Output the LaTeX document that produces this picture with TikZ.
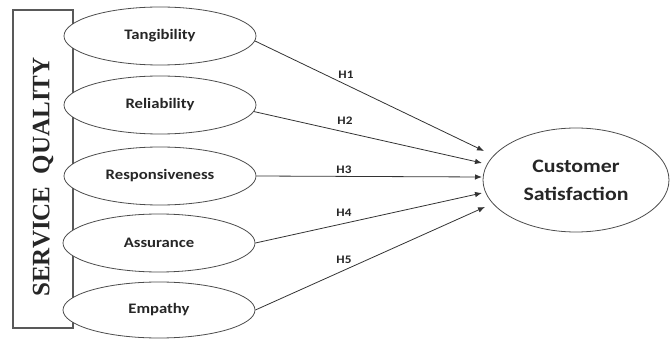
\documentclass[tikz,border=0pt]{standalone}
\usepackage{fontspec}
\setmainfont{Liberation Serif}
\newfontfamily\carl{Carlito}
\usetikzlibrary{shapes.geometric,arrows.meta}
\newcommand{\wideT}[1]{\scalebox{1.15}[1]{#1}}
\tikzset{
  dim/.style={ellipse, draw=black!70, line width=0.8pt, minimum width=192pt, minimum height=58pt, inner sep=0pt,
              font=\carl\bfseries\fontsize{14.5}{16}\selectfont, text=black!85},
  path/.style={draw=black!80, line width=0.8pt, -{Latex[length=7pt,width=5.5pt]}},
  hyp/.style={font=\carl\bfseries\fontsize{11.5}{13}\selectfont, text=black!85, inner sep=0pt}
}
\begin{document}
\begin{tikzpicture}[x=1pt,y=-1pt]
\useasboundingbox (0,0) rectangle (670,339);
% left box
\node[draw=black!65, line width=1.1pt, minimum width=60pt, minimum height=318pt, inner sep=0pt] (sq) at (43,169) {};
\node[rotate=90, font=\bfseries\fontsize{25}{28}\selectfont, text=black!85] (sqt) at (43,177) {SERVICE\ \ QUALITY};
% dimension ellipses
\node[dim, fill=white] (tan) at (160,36) {\wideT{Tangibility}};
\node[dim, fill=white] (rel) at (160,105) {\wideT{Reliability}};
\node[dim, fill=white] (res) at (160,176) {\wideT{Responsiveness}};
\node[dim, fill=white] (ass) at (159,243) {\wideT{Assurance}};
\node[dim, fill=white, minimum height=56pt] (emp) at (159,310) {\wideT{Empathy}};
% outcome
\node[ellipse, draw=black!70, line width=0.8pt, minimum width=186pt, minimum height=104pt, inner sep=0pt,
      font=\carl\bfseries\fontsize{19}{28}\selectfont, text=black!85, align=center] (cs) at (576,180)
      {\wideT{Customer}\\\wideT{Satisfaction}};
% arrow targets
\coordinate (t1) at (484,151);
\coordinate (t2) at (482,163);
\coordinate (t3) at (482,177);
\coordinate (t4) at (482,193);
\coordinate (t5) at (485,207);
\draw[path] (tan.-3) -- (t1);
\draw[path] (rel.-4) -- (t2);
\draw[path] (res.east) -- (t3);
\draw[path] (ass.east) -- (t4);
\draw[path] (emp.east) -- (t5);
% hypothesis labels
\node[hyp] (h1) at (346,75) {\wideT{H1}};
\node[hyp] (h2) at (345,121) {\wideT{H2}};
\node[hyp] (h3) at (344,170) {\wideT{H3}};
\node[hyp] (h4) at (344,213) {\wideT{H4}};
\node[hyp] (h5) at (344,260) {\wideT{H5}};
\end{tikzpicture}
\end{document}
